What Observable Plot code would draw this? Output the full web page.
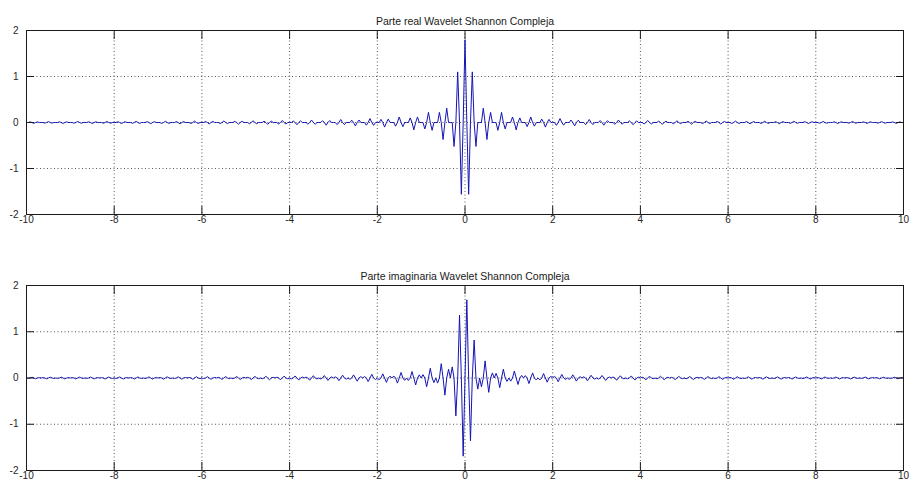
<!DOCTYPE html>
<html>
<head>
<meta charset="utf-8">
<script src="https://cdn.jsdelivr.net/npm/d3@7"></script>
<script src="https://cdn.jsdelivr.net/npm/@observablehq/plot@0.6"></script>
<style>
html, body { margin: 0; padding: 0; background: #ffffff; }
#chart svg { display: block; overflow: visible; }
</style>
</head>
<body>
<div id="chart"></div>
<script>
const titles = ["Parte real Wavelet Shannon Compleja", "Parte imaginaria Wavelet Shannon Compleja"];
const xTicks = [-10, -8, -6, -4, -2, 0, 2, 4, 6, 8, 10];
const yTicks = [-2, -1, 0, 1, 2];
// sample times: from -10 to 10 every 1/24
const sampleStart = -10;
const sampleStep = 1 / 24;

const realPart = [
  0,0, 0.013,0, -0.019,0, 0.013,0,
  0,0, -0.014,0, 0.019,0, -0.014,0,
  0,0, 0.014,0, -0.02,0, 0.014,0,
  0,0, -0.015,0, 0.021,0, -0.015,0,
  0,0, 0.015,0, -0.022,0, 0.015,0,
  0,0, -0.016,0, 0.022,0, -0.016,0,
  0,0, 0.016,0, -0.023,0, 0.017,0,
  0,0, -0.017,0, 0.025,0, -0.018,0,
  0,0, 0.018,0, -0.026,0, 0.018,0,
  0,0, -0.019,0, 0.027,0, -0.019,0,
  0,0, 0.02,0, -0.028,0, 0.02,0,
  0,0, -0.021,0, 0.03,0, -0.021,0,
  0,0, 0.022,0, -0.032,0, 0.023,0,
  0,0, -0.023,0, 0.033,0, -0.024,0,
  0,0, 0.025,0, -0.036,0, 0.026,0,
  0,0, -0.026,0, 0.038,0, -0.027,0,
  0,0, 0.028,0, -0.041,0, 0.029,0,
  0,0, -0.031,0, 0.044,0, -0.032,0,
  0,0, 0.033,0, -0.048,0, 0.035,0,
  0,0, -0.036,0, 0.053,0, -0.038,0,
  0,0, 0.04,0, -0.058,0, 0.042,0,
  0,0, -0.045,0, 0.065,0, -0.047,0,
  0,0, 0.05,0, -0.074,0, 0.054,0,
  0,0, -0.058,0, 0.085,0, -0.062,0,
  0,0, 0.068,0, -0.10,0, 0.074,0,
  0,0, -0.08,0, 0.12,0, -0.09,0,
  0,0, 0.10,0, -0.16,0, 0.12,0,
  0,0, -0.14,0, 0.22,0, -0.17,0,
  0,0, 0.22,0, -0.37,0, 0.31,0,
  0,0, -0.52,0, 1.10,0, -1.56,0,
  1.8,
  0,-1.56, 0,1.10, 0,-0.52, 0,0,
  0,0.31, 0,-0.37, 0,0.22, 0,0,
  0,-0.17, 0,0.22, 0,-0.14, 0,0,
  0,0.12, 0,-0.16, 0,0.10, 0,0,
  0,-0.09, 0,0.12, 0,-0.08, 0,0,
  0,0.074, 0,-0.10, 0,0.068, 0,0,
  0,-0.062, 0,0.085, 0,-0.058, 0,0,
  0,0.054, 0,-0.074, 0,0.05, 0,0,
  0,-0.047, 0,0.065, 0,-0.045, 0,0,
  0,0.042, 0,-0.058, 0,0.04, 0,0,
  0,-0.038, 0,0.053, 0,-0.036, 0,0,
  0,0.035, 0,-0.048, 0,0.033, 0,0,
  0,-0.032, 0,0.044, 0,-0.031, 0,0,
  0,0.029, 0,-0.041, 0,0.028, 0,0,
  0,-0.027, 0,0.038, 0,-0.026, 0,0,
  0,0.026, 0,-0.036, 0,0.025, 0,0,
  0,-0.024, 0,0.033, 0,-0.023, 0,0,
  0,0.023, 0,-0.032, 0,0.022, 0,0,
  0,-0.021, 0,0.03, 0,-0.021, 0,0,
  0,0.02, 0,-0.028, 0,0.02, 0,0,
  0,-0.019, 0,0.027, 0,-0.019, 0,0,
  0,0.018, 0,-0.026, 0,0.018, 0,0,
  0,-0.018, 0,0.025, 0,-0.017, 0,0,
  0,0.017, 0,-0.023, 0,0.016, 0,0,
  0,-0.016, 0,0.022, 0,-0.016, 0,0,
  0,0.015, 0,-0.022, 0,0.015, 0,0,
  0,-0.015, 0,0.021, 0,-0.015, 0,0,
  0,0.014, 0,-0.02, 0,0.014, 0,0,
  0,-0.014, 0,0.019, 0,-0.014, 0,0,
  0,0.013, 0,-0.019, 0,0.013, 0,0
];

const imagPart = [
  0,-0.007, 0,0.017, 0,-0.017, 0,0.007, 0,0.007, 0,-0.018, 0,0.018, 0,-0.008,
  0,-0.008, 0,0.018, 0,-0.019, 0,0.008, 0,0.008, 0,-0.019, 0,0.019, 0,-0.008,
  0,-0.008, 0,0.02, 0,-0.02, 0,0.008, 0,0.008, 0,-0.021, 0,0.021, 0,-0.009,
  0,-0.009, 0,0.022, 0,-0.022, 0,0.009, 0,0.009, 0,-0.023, 0,0.023, 0,-0.01,
  0,-0.01, 0,0.024, 0,-0.024, 0,0.01, 0,0.01, 0,-0.025, 0,0.025, 0,-0.01,
  0,-0.011, 0,0.026, 0,-0.026, 0,0.011, 0,0.011, 0,-0.027, 0,0.028, 0,-0.012,
  0,-0.012, 0,0.029, 0,-0.029, 0,0.012, 0,0.013, 0,-0.031, 0,0.031, 0,-0.013,
  0,-0.013, 0,0.033, 0,-0.033, 0,0.014, 0,0.014, 0,-0.035, 0,0.035, 0,-0.015,
  0,-0.015, 0,0.037, 0,-0.038, 0,0.016, 0,0.016, 0,-0.04, 0,0.041, 0,-0.017,
  0,-0.018, 0,0.044, 0,-0.045, 0,0.019, 0,0.019, 0,-0.048, 0,0.049, 0,-0.021,
  0,-0.021, 0,0.053, 0,-0.054, 0,0.023, 0,0.024, 0,-0.059, 0,0.061, 0,-0.026,
  0,-0.027, 0,0.067, 0,-0.069, 0,0.03, 0,0.031, 0,-0.077, 0,0.08, 0,-0.034,
  0,-0.036, 0,0.091, 0,-0.095, 0,0.041, 0,0.043, 0,-0.11, 0,0.12, 0,-0.051,
  0,-0.054, 0,0.14, 0,-0.151, 0,0.068, 0,0.073, 0,-0.19, 0,0.21, 0,-0.10,
  0,-0.11, 0,0.31, 0,-0.37, 0,0.19, 0,0.24, 0,-0.82, 0,1.36, 0,-1.69,
  0,
  1.69,0, -1.36,0, 0.82,0, -0.24,0, -0.19,0, 0.37,0, -0.31,0, 0.11,0,
  0.10,0, -0.21,0, 0.19,0, -0.073,0, -0.068,0, 0.151,0, -0.14,0, 0.054,0,
  0.051,0, -0.12,0, 0.11,0, -0.043,0, -0.041,0, 0.095,0, -0.091,0, 0.036,0,
  0.034,0, -0.08,0, 0.077,0, -0.031,0, -0.03,0, 0.069,0, -0.067,0, 0.027,0,
  0.026,0, -0.061,0, 0.059,0, -0.024,0, -0.023,0, 0.054,0, -0.053,0, 0.021,0,
  0.021,0, -0.049,0, 0.048,0, -0.019,0, -0.019,0, 0.045,0, -0.044,0, 0.018,0,
  0.017,0, -0.041,0, 0.04,0, -0.016,0, -0.016,0, 0.038,0, -0.037,0, 0.015,0,
  0.015,0, -0.035,0, 0.035,0, -0.014,0, -0.014,0, 0.033,0, -0.033,0, 0.013,0,
  0.013,0, -0.031,0, 0.031,0, -0.013,0, -0.012,0, 0.029,0, -0.029,0, 0.012,0,
  0.012,0, -0.028,0, 0.027,0, -0.011,0, -0.011,0, 0.026,0, -0.026,0, 0.011,0,
  0.01,0, -0.025,0, 0.025,0, -0.01,0, -0.01,0, 0.024,0, -0.024,0, 0.01,0,
  0.01,0, -0.023,0, 0.023,0, -0.009,0, -0.009,0, 0.022,0, -0.022,0, 0.009,0,
  0.009,0, -0.021,0, 0.021,0, -0.008,0, -0.008,0, 0.02,0, -0.02,0, 0.008,0,
  0.008,0, -0.019,0, 0.019,0, -0.008,0, -0.008,0, 0.019,0, -0.018,0, 0.008,0,
  0.008,0, -0.018,0, 0.018,0, -0.007,0, -0.007,0, 0.017,0, -0.017,0, 0.007,0
];

const fmt = d => String(d);
const textColor = "#262626";

function panel(values, title, height, marginTop, marginBottom) {
  const data = values.map((v, i) => ({t: sampleStart + i * sampleStep, v}));
  return Plot.plot({
    width: 909,
    height,
    marginLeft: 26,
    marginRight: 6,
    marginTop,
    marginBottom,
    style: {fontFamily: "'Liberation Sans', Arial, sans-serif", fontSize: "10px", background: "#ffffff", color: textColor, overflow: "visible"},
    x: {domain: [-10, 10], label: null},
    y: {domain: [-2, 2], label: null},
    marks: [
      Plot.gridX(xTicks, {stroke: "#3a3a3a", strokeOpacity: 0.85, strokeDasharray: "1,2.5", strokeWidth: 1}),
      Plot.gridY(yTicks, {stroke: "#3a3a3a", strokeOpacity: 0.85, strokeDasharray: "1,2.5", strokeWidth: 1}),
      Plot.line(data, {x: "t", y: "v", stroke: "#1515b5", strokeWidth: 1}),
      Plot.frame({stroke: "#1a1a1a", strokeWidth: 1}),
      Plot.axisX(xTicks, {anchor: "bottom", tickSize: -8, tickFormat: () => "", stroke: "#1a1a1a"}),
      Plot.axisX(xTicks, {anchor: "top", tickSize: -8, tickFormat: () => "", stroke: "#1a1a1a"}),
      Plot.axisY(yTicks, {anchor: "left", tickSize: -8, tickFormat: () => "", stroke: "#1a1a1a"}),
      Plot.axisY(yTicks, {anchor: "right", tickSize: -8, tickFormat: () => "", stroke: "#1a1a1a"}),
      Plot.axisX(xTicks, {anchor: "bottom", tickSize: 0, tickPadding: 1, tickFormat: fmt, fill: textColor, fontSize: 10}),
      Plot.axisY(yTicks, {anchor: "left", tickSize: 0, tickPadding: 8, tickFormat: fmt, fill: textColor, fontSize: 10}),
      Plot.text([title], {frameAnchor: "top", dy: -12.5, fontSize: 10.5, fill: "#1a1a1a"})
    ]
  });
}

const chart = document.getElementById("chart");
chart.appendChild(panel(realPart, titles[0], 243, 30, 29));
chart.appendChild(panel(imagPart, titles[1], 242, 42, 15));
</script>
</body>
</html>
